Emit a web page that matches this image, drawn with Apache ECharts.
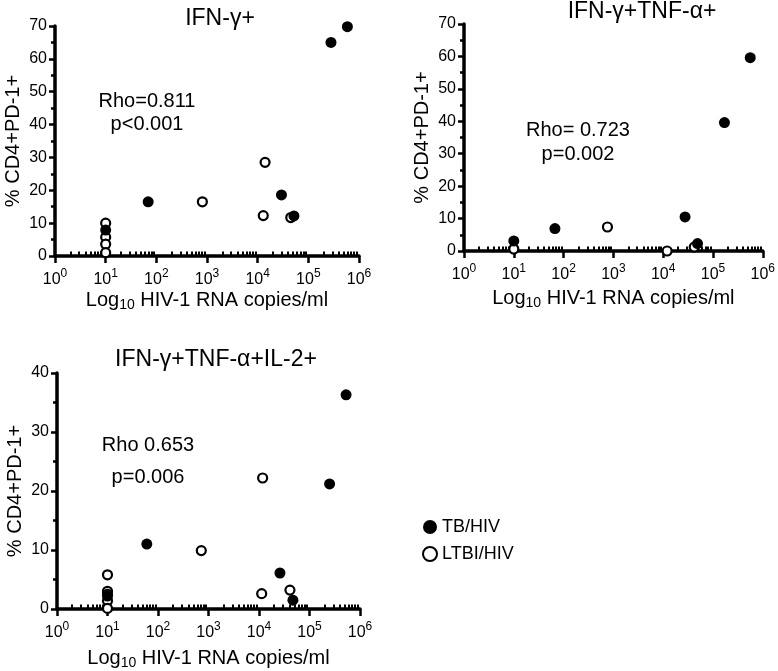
<!DOCTYPE html>
<html><head><meta charset="utf-8">
<script src="https://cdn.jsdelivr.net/npm/echarts@6/dist/echarts.min.js"></script>
<style>html,body{margin:0;padding:0;background:#fff}#c{width:778px;height:671px}</style>
</head><body><div id="c"></div>
<script>
// ---- data ----
const xMajorTicks = [1, 10, 100, 1000, 10000, 100000, 1000000];
const minorMultipliers = [2, 3, 4, 5, 6, 7, 8, 9];
const panelTitles = ['IFN-\u03b3+', 'IFN-\u03b3+TNF-\u03b1+', 'IFN-\u03b3+TNF-\u03b1+IL-2+'];
const statLines1 = ['Rho=0.811', 'p<0.001'];
const statLines2 = ['Rho= 0.723', 'p=0.002'];
const statLines3 = ['Rho 0.653', 'p=0.006'];
const yMaxes = [70, 70, 40];
const seriesNames = ['TB/HIV', 'LTBI/HIV'];

const p1TbX = [10, 69, 29500, 52000, 280000, 590000];
const p1TbY = [7.9, 16.5, 18.6, 12.2, 65, 69.8];
const p1LtbiX = [10, 10, 10, 10, 810, 12900, 14000, 45000];
const p1LtbiY = [10.0, 5.7, 3.6, 1.0, 16.5, 12.3, 28.5, 11.7];

const p2TbX = [10, 67, 27500, 49000, 170000, 560000];
const p2TbY = [3.1, 6.9, 10.5, 2.3, 39.6, 59.6];
const p2LtbiX = [10, 760, 12000, 42000];
const p2LtbiY = [0.6, 7.4, 0, 1.2];

const p3TbX = [10, 60, 26000, 47000, 250000, 530000];
const p3TbY = [2.2, 11.0, 6.1, 1.5, 21.2, 36.3];
const p3LtbiX = [10, 10, 10, 10, 10, 720, 11800, 11300, 41000];
const p3LtbiY = [5.8, 3.0, 2.5, 1.4, 0.1, 9.9, 22.2, 2.6, 3.2];

// ---- build ----
const FONT = '"Liberation Sans", Arial, Helvetica, sans-serif';
const minorTicks = [];
for (let k = 0; k < 6; k++) minorMultipliers.forEach(m => minorTicks.push(m * Math.pow(10, k)));
const zip = (xs, ys) => xs.map((x, i) => [x, ys[i]]);

const grids = [
  {left: 55, top: 26, width: 304, height: 230},
  {left: 464, top: 24, width: 302, height: 227},
  {left: 57, top: 373, width: 303, height: 236}
];
const xNameGaps = [33, 36, 38];

const xAxes = [], yAxes = [], series = [];
grids.forEach((g, i) => {
  xAxes.push({
    type: 'log', logBase: 10, gridIndex: i, min: 1, max: 1000000,
    name: '{a|Log}{b|10}{a| HIV-1 RNA copies/ml}', nameLocation: 'middle', nameGap: xNameGaps[i],
    nameTextStyle: {color: '#000', fontFamily: FONT, fontSize: 20,
      rich: {a: {fontSize: 20, fontFamily: FONT, color: '#000'},
             b: {fontSize: 14, fontFamily: FONT, color: '#000', padding: [9, 0, 0, 0]}}},
    axisLine: {show: true, onZero: false, lineStyle: {color: '#000', width: 3.5, opacity: 1}},
    axisTick: {show: true, customValues: xMajorTicks, length: 7, lineStyle: {color: '#000', width: 2.5}},
    axisLabel: {show: true, customValues: xMajorTicks, margin: 12, color: '#000', fontFamily: FONT, fontSize: 16,
      formatter: v => '10{s|' + Math.round(Math.log10(v)) + '}',
      rich: {s: {fontSize: 12, fontFamily: FONT, color: '#000', padding: [0, 0, 11, 0]}}},
    splitLine: {show: false}, minorTick: {show: false}
  });
  xAxes.push({
    type: 'log', logBase: 10, gridIndex: i, min: 1, max: 1000000,
    axisLine: {show: false},
    axisTick: {show: true, customValues: minorTicks, length: 4.5, lineStyle: {color: '#000', width: 2}},
    axisLabel: {show: false}, splitLine: {show: false}
  });
  yAxes.push({
    type: 'value', gridIndex: i, min: 0, max: yMaxes[i], interval: 10,
    name: '% CD4+PD-1+', nameLocation: 'middle', nameGap: 32,
    nameTextStyle: {color: '#000', fontFamily: FONT, fontSize: 20},
    axisLine: {show: true, onZero: false, lineStyle: {color: '#000', width: 3.5, opacity: 1}},
    axisTick: {show: true, length: 6, lineStyle: {color: '#000', width: 2.5}},
    minorTick: {show: true, splitNumber: 2, length: 4, lineStyle: {color: '#000', width: 2.5}},
    axisLabel: {margin: 8, color: '#000', fontFamily: FONT, fontSize: 16},
    splitLine: {show: false}
  });
});

const tbData = [zip(p1TbX, p1TbY), zip(p2TbX, p2TbY), zip(p3TbX, p3TbY)];
const ltbiData = [zip(p1LtbiX, p1LtbiY), zip(p2LtbiX, p2LtbiY), zip(p3LtbiX, p3LtbiY)];
grids.forEach((g, i) => {
  series.push({
    name: seriesNames[1], type: 'scatter', xAxisIndex: 2 * i, yAxisIndex: i,
    data: ltbiData[i], symbol: 'circle', symbolSize: 9, z: 3,
    itemStyle: {color: '#fff', borderColor: '#000', borderWidth: 2.2, opacity: 1}
  });
  series.push({
    name: seriesNames[0], type: 'scatter', xAxisIndex: 2 * i, yAxisIndex: i,
    data: tbData[i], symbol: 'circle', symbolSize: 11, z: 4,
    itemStyle: {color: '#000', opacity: 1}
  });
});

function txt(text, x, y, size) {
  return {type: 'text', x: x, y: y, silent: true,
    style: {text: text, fill: '#000', font: size + 'px ' + FONT, textAlign: 'center', textVerticalAlign: 'middle'}};
}
const graphics = [
  txt(panelTitles[0], 220, 19, 23),
  txt(panelTitles[1], 642, 12, 23),
  txt(panelTitles[2], 216, 360, 23),
  txt(statLines1[0], 147, 101, 20), txt(statLines1[1], 147, 124, 20),
  txt(statLines2[0], 578, 130, 20), txt(statLines2[1], 578, 154, 20),
  txt(statLines3[0], 148, 445, 20), txt(statLines3[1], 148, 477, 20)
];

const chart = echarts.init(document.getElementById('c'), null, {renderer: 'canvas'});
chart.setOption({
  backgroundColor: '#fff',
  animation: false,
  grid: grids,
  xAxis: xAxes,
  yAxis: yAxes,
  series: series,
  legend: {
    orient: 'vertical', left: 417, top: 513, itemWidth: 14, itemHeight: 14, itemGap: 9,
    textStyle: {color: '#000', fontFamily: FONT, fontSize: 18},
    data: [
      {name: seriesNames[0], icon: 'circle', itemStyle: {color: '#000'}},
      {name: seriesNames[1], icon: 'circle', itemStyle: {color: '#fff', borderColor: '#000', borderWidth: 2}}
    ]
  },
  graphic: graphics
});
</script></body></html>
